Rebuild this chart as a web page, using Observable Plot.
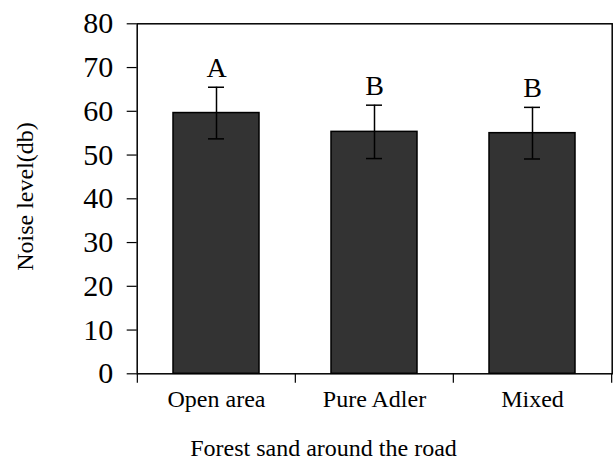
<!DOCTYPE html>
<html>
<head>
<meta charset="utf-8">
<script src="https://cdn.jsdelivr.net/npm/d3@7"></script>
<script src="https://cdn.jsdelivr.net/npm/@observablehq/plot@0.6"></script>
<style>
  html, body { margin: 0; padding: 0; background: white; }
</style>
</head>
<body>
<div id="chart"></div>
<script>
const categories = ["Open area", "Pure Adler", "Mixed"];
const means = [59.6, 55.3, 55.0];
const errors = [5.9, 6.1, 5.9];
const letters = ["A", "B", "B"];
const yTicks = [0, 10, 20, 30, 40, 50, 60, 70, 80];
const yTitle = "Noise level(db)";
const xTitle = "Forest sand around the road";

const data = categories.map((c, i) => ({cat: c, mean: means[i], sd: errors[i], letter: letters[i]}));

const W = 614, H = 461;
const ml = 136.7, mr = 2.3, mt = 23.3, mb = 87.7;
const step = (W - ml - mr) / categories.length;
const padIn = 0.457;
const bw = step * (1 - padIn);
const capW = 16;
const capInset = (bw - capW) / 2;
const font = "'Liberation Serif', 'Times New Roman', serif";

const chart = Plot.plot({
  width: W,
  height: H,
  marginLeft: ml,
  marginRight: mr,
  marginTop: mt,
  marginBottom: mb,
  style: {fontFamily: font, background: "white", color: "black", overflow: "visible"},
  x: {domain: categories, paddingInner: padIn, paddingOuter: padIn / 2, axis: null},
  y: {domain: [0, 80], axis: null},
  marks: [
    Plot.barY(data, {x: "cat", y: "mean", fill: "#333333", stroke: "black", strokeWidth: 1.5}),
    Plot.ruleX(data, {x: "cat", y1: d => d.mean - d.sd, y2: d => d.mean + d.sd, stroke: "black", strokeWidth: 1.5}),
    Plot.tickY(data, {x: "cat", y: d => d.mean + d.sd, stroke: "black", strokeWidth: 1.5, insetLeft: capInset, insetRight: capInset}),
    Plot.tickY(data, {x: "cat", y: d => d.mean - d.sd, stroke: "black", strokeWidth: 1.5, insetLeft: capInset, insetRight: capInset}),
    Plot.text(data, {x: "cat", y: d => d.mean + d.sd, text: "letter", dy: -10, lineAnchor: "bottom", fontSize: 28, fill: "black"}),
    Plot.frame({stroke: "black", strokeWidth: 1.5}),
    Plot.axisY({ticks: yTicks, label: null, tickSize: 10, tickPadding: 14, fontSize: 30, stroke: "black", strokeWidth: 1.2, fill: "black"}),
    Plot.axisX({label: null, tickSize: 0, tickPadding: 15.7, fontSize: 24, fill: "black"}),
    // category boundary ticks below the baseline
    Plot.ruleX(categories, {x: d => d, dx: -step / 2, insetTop: H - mt - mb, insetBottom: -9.5, stroke: "black", strokeWidth: 1.2}),
    Plot.ruleX(categories.slice(-1), {x: d => d, dx: step / 2, insetTop: H - mt - mb, insetBottom: -9.5, stroke: "black", strokeWidth: 1.2}),
    Plot.text([yTitle], {frameAnchor: "left", textAnchor: "middle", rotate: -90, dx: 32 - ml, dy: -2.3, lineAnchor: "bottom", fontSize: 24, fill: "black"}),
    Plot.text([xTitle], {frameAnchor: "bottom", textAnchor: "middle", dx: 323 - (ml + (W - ml - mr) / 2), dy: 82.5, lineAnchor: "bottom", fontSize: 24, fill: "black"})
  ]
});
document.getElementById("chart").appendChild(chart);
</script>
</body>
</html>
